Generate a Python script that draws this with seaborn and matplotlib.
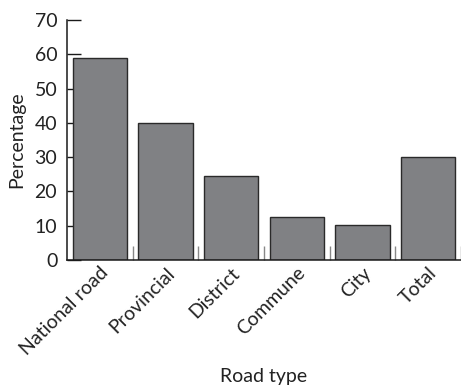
import matplotlib
matplotlib.use("Agg")
import matplotlib.pyplot as plt
import seaborn as sns
import pandas as pd
from matplotlib.ticker import FixedLocator

# data
road_types = ["National road", "Provincial", "District", "Commune", "City", "Total"]
percentages = [59, 40, 24.4, 12.6, 10.2, 30]
y_ticks = [0, 10, 20, 30, 40, 50, 60, 70]

sns.set_style("ticks")
plt.rcParams["font.family"] = ["Lato", "DejaVu Sans"]

df = pd.DataFrame({"Road type": road_types, "Percentage": percentages})

fig = plt.figure(figsize=(4.61, 3.88), dpi=100)
ax = fig.add_axes([0.1453, 0.3299, 0.8547, 0.6186])

sns.barplot(data=df, x="Road type", y="Percentage", color="#808184",
            saturation=1, edgecolor="#2a2a2a", linewidth=1.0, width=0.83, ax=ax)

ax.set_axisbelow(True)
ax.set_xlim(-0.5, len(road_types) - 0.5)
ax.set_ylim(0, 70)
ax.set_yticks(y_ticks)

sns.despine(ax=ax, top=True, right=True)
for s in ["left", "bottom"]:
    ax.spines[s].set_linewidth(1.1)
    ax.spines[s].set_color("#1a1a1a")

ax.tick_params(axis="y", direction="in", length=10, width=1.0, color="#1a1a1a",
               labelsize=14, pad=7, labelcolor="#222222")
ax.tick_params(axis="x", which="major", length=0, labelsize=14, pad=3,
               labelcolor="#222222")
ax.xaxis.set_minor_locator(FixedLocator([i + 0.5 for i in range(len(road_types))]))
ax.tick_params(axis="x", which="minor", direction="in", length=10, width=1.0,
               color="#888888")

for lab in ax.get_xticklabels():
    lab.set_rotation(45)
    lab.set_ha("right")
    lab.set_va("top")
    lab.set_rotation_mode("anchor")

ax.set_xlabel("Road type", fontsize=14, color="#222222")
ax.set_ylabel("Percentage", fontsize=14, color="#222222")
ax.xaxis.set_label_coords(0.5, -0.45)
ax.yaxis.set_label_coords(-0.105, 0.5)

fig.savefig("out.png", dpi=100)
plt.close(fig)
